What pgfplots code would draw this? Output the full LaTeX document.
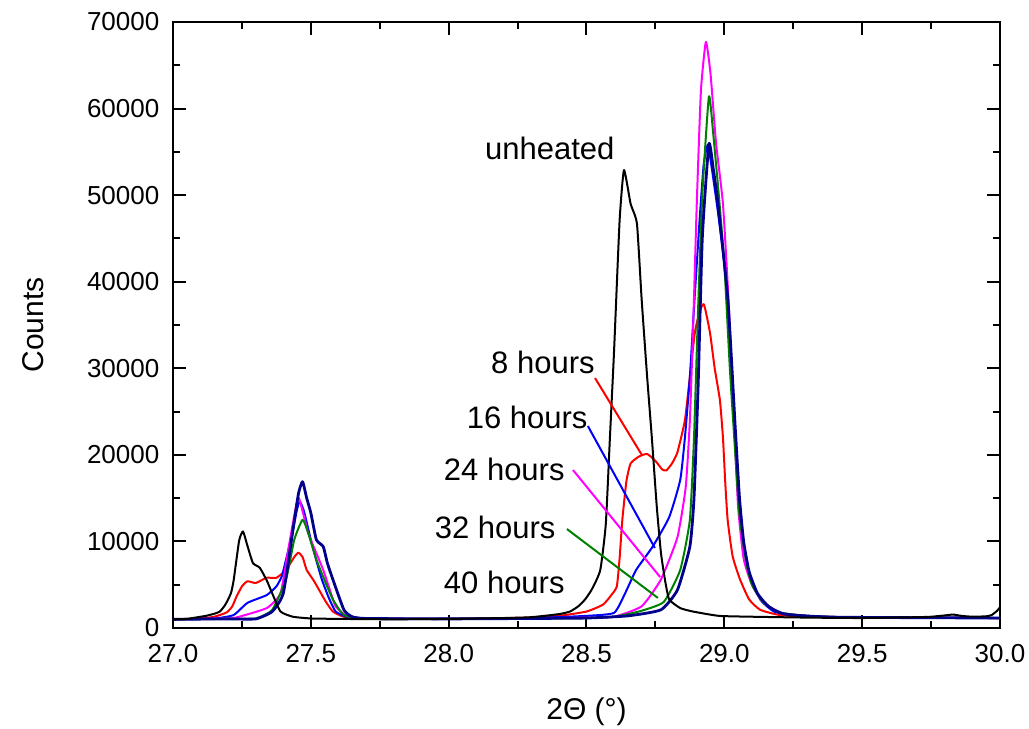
\documentclass[border=0pt]{standalone}
\usepackage{fontspec}
\setmainfont{Liberation Sans}
\usepackage{pgfplots}
\pgfplotsset{compat=1.18}
\usetikzlibrary{calc}

\definecolor{cRed}{RGB}{255,0,0}
\definecolor{cBlue}{RGB}{0,0,255}
\definecolor{cMag}{RGB}{255,0,255}
\definecolor{cGreen}{RGB}{0,128,0}
\definecolor{cNavy}{RGB}{0,0,139}

\begin{document}
\begin{tikzpicture}
\begin{axis}[
    scale only axis,
    width=413.5pt, height=303pt,
    xmin=27, xmax=30, ymin=0, ymax=70000,
    xtick={27,27.5,28,28.5,29,29.5,30},
    ytick={0,10000,20000,30000,40000,50000,60000,70000},
    minor x tick num=1, minor y tick num=1,
    tick align=inside,
    major tick length=6.5pt, minor tick length=3.5pt,
    axis line style={line width=1.2pt},
    every tick/.style={line width=1pt, black},
    scaled y ticks=false,
    /pgf/number format/assume math mode=true,
    yticklabel style={/pgf/number format/fixed, /pgf/number format/1000 sep={}, xshift=-3.3pt},
    xticklabel style={/pgf/number format/fixed, /pgf/number format/fixed zerofill, /pgf/number format/precision=1, yshift=-4.8pt},
    tick label style={font=\fontsize{13}{15}\selectfont},
    label style={font=\fontsize{15}{18}\selectfont},
    xlabel={2Θ (°)}, ylabel={Counts},
    xlabel style={at={(axis description cs:0.5,-0.139)}, anchor=center},
    ylabel style={at={(axis description cs:-0.169,0.5)}, anchor=center},
    every axis plot/.append style={line width=1pt, smooth, tension=0.3, line join=round},
]
% 8 hours
\addplot[cRed] coordinates {
(27.00,1000) (27.10,1100) (27.15,1300) (27.195,1800) (27.215,2500) (27.23,3600)
(27.25,4800) (27.27,5400) (27.30,5200) (27.34,5800) (27.375,5800) (27.41,6700)
(27.44,8200) (27.455,8700) (27.47,8200) (27.485,6700) (27.51,5500) (27.53,4400)
(27.555,3000) (27.58,1900) (27.62,1300) (27.70,1100) (28.00,1050) (28.30,1200)
(28.40,1400) (28.50,1900) (28.56,2700) (28.59,3800) (28.61,4800) (28.62,8000)
(28.63,12500) (28.645,17000) (28.66,19000) (28.69,19800) (28.72,20100) (28.75,19300)
(28.775,18300) (28.79,18200) (28.81,19000) (28.83,20300) (28.857,24000) (28.875,29000)
(28.893,34100) (28.91,36500) (28.926,37400) (28.948,34100) (28.965,30000) (28.984,26300)
(28.995,22000) (29.003,17000) (29.012,12500) (29.03,8300) (29.057,5600) (29.09,3300)
(29.13,2100) (29.20,1500) (29.30,1300) (29.50,1200) (30.00,1150)
};
% 16 hours
\addplot[cBlue] coordinates {
(27.00,1000) (27.15,1100) (27.22,1500) (27.27,2900) (27.34,3800) (27.375,4800)
(27.395,6000) (27.41,7900) (27.43,10500) (27.45,13700) (27.46,14600) (27.475,13500)
(27.50,10200) (27.52,7800) (27.54,5600) (27.565,3500) (27.59,1900) (27.63,1300)
(27.70,1100) (28.00,1050) (28.30,1150) (28.50,1400) (28.60,1750) (28.64,4000)
(28.68,6700) (28.74,9400) (28.80,12800) (28.84,17100) (28.857,22000) (28.875,29000)
(28.89,37000) (28.91,47000) (28.925,53500) (28.94,55800) (28.955,53000) (28.977,48000)
(29.00,42000) (29.015,36000) (29.03,27000) (29.042,20000) (29.055,13500) (29.07,9500)
(29.09,6300) (29.13,3300) (29.18,1900) (29.25,1500) (29.40,1250) (30.00,1150)
};
% 24 hours
\addplot[cMag] coordinates {
(27.00,1000) (27.20,1100) (27.24,1300) (27.34,2300) (27.39,4000) (27.42,9400)
(27.44,13000) (27.455,15100) (27.47,13500) (27.49,11000) (27.51,9400) (27.545,6700)
(27.57,4300) (27.59,2500) (27.63,1400) (27.70,1100) (28.00,1050) (28.30,1100)
(28.50,1200) (28.60,1300) (28.70,2500) (28.77,5600) (28.83,10500) (28.86,16300)
(28.875,24000) (28.888,36000) (28.90,49000) (28.915,62000) (28.933,67700) (28.95,64000)
(28.97,56000) (28.995,49000) (29.015,38000) (29.035,24000) (29.05,14000) (29.07,8000)
(29.10,5000) (29.14,3000) (29.20,1800) (29.30,1400) (29.50,1200) (30.00,1150)
};
% 32 hours
\addplot[cGreen] coordinates {
(27.00,1000) (27.20,1050) (27.30,1100) (27.36,2100) (27.41,5600) (27.44,10200)
(27.47,12500) (27.49,11000) (27.52,7900) (27.55,5500) (27.58,3300) (27.62,1500)
(27.70,1100) (28.00,1050) (28.30,1100) (28.50,1150) (28.60,1300) (28.69,1900)
(28.78,3000) (28.84,6700) (28.875,12500) (28.89,22000) (28.905,37000) (28.92,50000)
(28.944,61400) (28.96,57000) (28.98,50000) (29.00,42000) (29.02,30000) (29.04,20000)
(29.055,13000) (29.08,7500) (29.10,5000) (29.14,3000) (29.20,1800) (29.30,1400)
(29.50,1200) (30.00,1150)
};
% 40 hours
\addplot[cNavy, line width=1.4pt] coordinates {
(27.00,1000) (27.20,1050) (27.30,1050) (27.36,1900) (27.40,4000) (27.435,11300)
(27.455,15500) (27.47,16900) (27.485,15000) (27.50,13300) (27.52,10200) (27.545,9400)
(27.56,7500) (27.58,5600) (27.62,2100) (27.65,1300) (27.70,1100) (28.00,1050)
(28.30,1100) (28.50,1150) (28.65,1400) (28.77,2100) (28.83,4400) (28.875,9400)
(28.89,15000) (28.905,28000) (28.92,45000) (28.944,55900) (28.96,53000) (28.977,49000)
(29.013,37900) (29.04,22900) (29.055,15000) (29.07,10000) (29.09,6500) (29.12,4000)
(29.16,2500) (29.22,1600) (29.40,1250) (30.00,1150)
};
% unheated
\addplot[black] coordinates {
(27.00,1000) (27.05,1050) (27.10,1300) (27.12,1400) (27.15,1650) (27.17,1900)
(27.19,2700) (27.21,4000) (27.22,5500) (27.24,10100) (27.254,11150) (27.27,9500)
(27.29,7500) (27.315,6950) (27.34,5500) (27.36,4000) (27.39,1900) (27.435,1300)
(27.50,1100) (27.60,1050) (27.80,1000) (28.00,1050) (28.20,1150) (28.30,1250)
(28.40,1600) (28.44,1900) (28.47,2500) (28.495,3300) (28.52,4500) (28.55,6700)
(28.57,12000) (28.585,22000) (28.60,32000) (28.62,47000) (28.636,52900) (28.66,49000)
(28.683,46700) (28.70,38000) (28.72,29000) (28.737,22000) (28.755,14000) (28.77,8700)
(28.785,5500) (28.80,3300) (28.84,2300) (28.886,1900) (28.98,1400) (29.10,1300)
(29.30,1200) (29.50,1150) (29.70,1250) (29.75,1300) (29.80,1450) (29.83,1550)
(29.86,1400) (29.90,1300) (29.95,1350) (29.97,1500) (29.99,2000) (30.00,2400)
};
% labels and leader lines
\draw[cRed, line width=1pt] (axis cs:28.531,28870) -- (axis cs:28.701,19980);
\draw[cBlue, line width=1pt] (axis cs:28.505,23330) -- (axis cs:28.748,9240);
\draw[cMag, line width=1pt] (axis cs:28.451,18250) -- (axis cs:28.767,5890);
\draw[cGreen, line width=1pt] (axis cs:28.429,11430) -- (axis cs:28.759,3470);
\begin{scope}[every node/.style={font=\fontsize{15.5}{18}\selectfont, inner sep=0pt, anchor=base east}]
\node at (axis cs:28.603,54170) {unheated};
\node at (axis cs:28.531,29450) {8 hours};
\node at (axis cs:28.505,23100) {16 hours};
\node at (axis cs:28.422,17090) {24 hours};
\node at (axis cs:28.389,10390) {32 hours};
\node at (axis cs:28.422,4040) {40 hours};
\end{scope}
\end{axis}
\pgfresetboundingbox
\path[use as bounding box] ($(current axis.south west)+(-86.5pt,-50.5pt)$) rectangle ($(current axis.north east)+(14.5pt,11pt)$);
\end{tikzpicture}
\end{document}
